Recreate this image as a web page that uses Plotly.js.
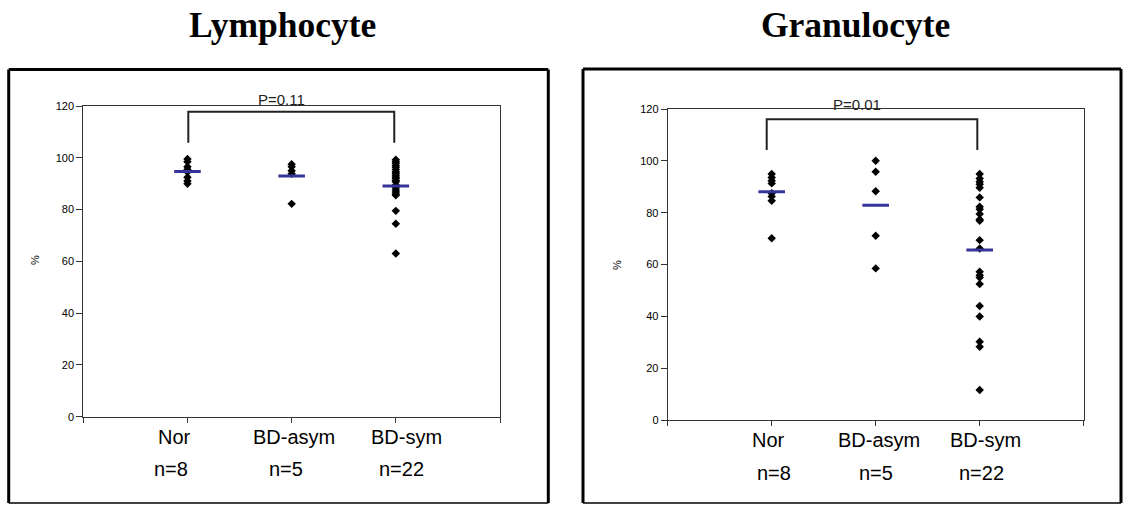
<!DOCTYPE html>
<html><head><meta charset="utf-8">
<script src="https://cdn.plot.ly/plotly-3.0.1.min.js"></script>
<style>html,body{margin:0;padding:0;background:#fff;}#chart{width:1129px;height:505px;}</style>
</head><body><div id="chart"></div>
<script>
// ---- data ----
const categories = ['Nor', 'BD-asym', 'BD-sym'];
const nLabels = ['n=8', 'n=5', 'n=22'];
const panelTitles = ['Lymphocyte', 'Granulocyte'];
const pLabels = ['P=0.11', 'P=0.01'];
const yTicks = [0, 20, 40, 60, 80, 100, 120];

const lymphNor = [99.5, 98.5, 96.5, 95.5, 94.5, 92.5, 91.0, 90.0];
const lymphAsym = [97.5, 96.5, 95.0, 93.8, 82.2];
const lymphSym = [99.2, 98.5, 97.9, 97.0, 96.3, 95.5, 94.6, 94.0, 93.3, 92.6, 92.0,
                  91.2, 90.7, 89.5, 88.4, 87.6, 86.8, 86.0, 85.5, 79.5, 74.5, 63.0];
const lymphMeans = [94.7, 93.0, 89.1];

const granNor = [94.9, 93.6, 92.3, 91.3, 87.5, 86.2, 84.6, 70.1];
const granAsym = [100.0, 95.8, 88.3, 71.1, 58.5];
const granSym = [94.9, 93.2, 91.9, 91.0, 89.6, 85.9, 82.3, 81.3, 79.5, 77.4, 76.9,
                 69.4, 66.2, 57.2, 55.9, 55.0, 52.5, 44.0, 39.9, 30.2, 28.3, 11.6];
const granMeans = [88.1, 82.9, 65.6];

// ---- layout helpers (pixel -> paper) ----
const W = 1129, H = 505;
const PX = p => p / W;
const PY = p => 1 - p / H;

const panels = [
  {groups: [lymphNor, lymphAsym, lymphSym], means: lymphMeans, xa: 'x', ya: 'y',
   xdom: [83.3, 500], ydom: [416.7, 106], frame: [8.7, 69.5, 548.3, 503],
   titleX: 282, pPos: [1.907, 99.5], bracket: [1.008, 2.985, 105.8, 117.8],
   labShift: [-13, 2, 11], nShift: [-16, -6, 6], labY: 437, nY: 469, pctX: 35, pctY: 260},
  {groups: [granNor, granAsym, granSym], means: granMeans, xa: 'x2', ya: 'y2',
   xdom: [667.7, 1083.7], ydom: [420, 109], frame: [583, 69, 1121, 503],
   titleX: 855, pPos: [1.817, 104.5], bracket: [0.952, 2.977, 104.2, 116.0],
   labShift: [-3, 3, 6], nShift: [2, 0, 2], labY: 440, nY: 473, pctX: 617, pctY: 265}
];

const traces = [];
const shapes = [];
const annotations = [];
const layout = {
  width: W, height: H, margin: {l: 0, r: 0, t: 0, b: 0},
  paper_bgcolor: '#ffffff', plot_bgcolor: '#ffffff',
  showlegend: false, hovermode: false,
  font: {family: 'Liberation Sans, Arial, sans-serif', color: '#000'}
};

panels.forEach((p, k) => {
  const sfx = k === 0 ? '' : '2';
  // points
  const xs = [], ys = [];
  p.groups.forEach((g, i) => g.forEach(v => { xs.push(i + 1); ys.push(v); }));
  traces.push({
    type: 'scatter', mode: 'markers', x: xs, y: ys, xaxis: p.xa, yaxis: p.ya,
    marker: {symbol: 'diamond', size: 6.5, color: '#000'}, cliponaxis: false
  });
  // mean dashes
  traces.push({
    type: 'scatter', mode: 'markers', x: [1, 2, 3], y: p.means, xaxis: p.xa, yaxis: p.ya,
    marker: {symbol: 'line-ew', size: 19, color: '#34349a', line: {color: '#34349a', width: 3}}
  });
  layout['xaxis' + sfx] = {
    domain: [PX(p.xdom[0]), PX(p.xdom[1])], range: [0, 4], anchor: 'y' + sfx,
    tickvals: [0, 1, 2, 3, 4], ticks: 'outside', ticklen: 5, tickcolor: '#333', tickwidth: 1,
    showticklabels: false, showgrid: false, zeroline: false,
    showline: true, linecolor: '#333', linewidth: 1, mirror: true, fixedrange: true
  };
  layout['yaxis' + sfx] = {
    domain: [PY(p.ydom[0]), PY(p.ydom[1])], range: [0, 120], anchor: 'x' + sfx,
    tickvals: yTicks, ticks: 'outside', ticklen: 6, tickcolor: '#333', tickwidth: 1,
    tickfont: {size: 11, color: '#000'}, showgrid: false, zeroline: false,
    showline: true, linecolor: '#333', linewidth: 1, mirror: true, fixedrange: true
  };
  // bracket
  const b = p.bracket;
  shapes.push({type: 'path', xref: p.xa, yref: p.ya,
    path: `M ${b[0]},${b[2]} L ${b[0]},${b[3]} L ${b[1]},${b[3]} L ${b[1]},${b[2]}`,
    line: {color: '#222', width: 2}});
  // outer frame
  const f = p.frame;
  [[f[0], f[1], f[0], f[3], 3], [f[0], f[1], f[2], f[1], 3], [f[2], f[1], f[2], f[3], 3],
   [f[0], f[3], f[2], f[3], 1.5]].forEach(l => shapes.push({
    type: 'line', xref: 'paper', yref: 'paper', x0: PX(l[0]), y0: PY(l[1]), x1: PX(l[2]), y1: PY(l[3]),
    line: {color: '#000', width: l[4]}}));
  // titles
  annotations.push({xref: 'paper', yref: 'paper', x: PX(p.titleX), y: PY(25), xanchor: 'center', yanchor: 'middle',
    text: '<b>' + panelTitles[k] + '</b>', showarrow: false,
    font: {family: 'Liberation Serif, Times New Roman, serif', size: 35.5, color: '#000'}});
  // p-value
  annotations.push({xref: p.xa, yref: 'paper', x: p.pPos[0], y: PY(p.pPos[1]), xanchor: 'center', yanchor: 'middle',
    text: pLabels[k], showarrow: false, font: {size: 15, color: '#222'}});
  // category and n labels
  categories.forEach((c, i) => {
    annotations.push({xref: p.xa, yref: 'paper', x: i + 1, xshift: p.labShift[i], y: PY(p.labY),
      xanchor: 'center', yanchor: 'middle', text: c, showarrow: false, font: {size: 20, color: '#000'}});
    annotations.push({xref: p.xa, yref: 'paper', x: i + 1, xshift: p.nShift[i], y: PY(p.nY),
      xanchor: 'center', yanchor: 'middle', text: nLabels[i], showarrow: false, font: {size: 20, color: '#000'}});
  });
  // y-axis title
  annotations.push({xref: 'paper', yref: 'paper', x: PX(p.pctX), y: PY(p.pctY), xanchor: 'center', yanchor: 'middle',
    text: '%', textangle: -90, showarrow: false, font: {size: 11, color: '#000'}});
});

layout.shapes = shapes;
layout.annotations = annotations;
Plotly.newPlot('chart', traces, layout, {staticPlot: true, displayModeBar: false});
</script>
</body></html>
